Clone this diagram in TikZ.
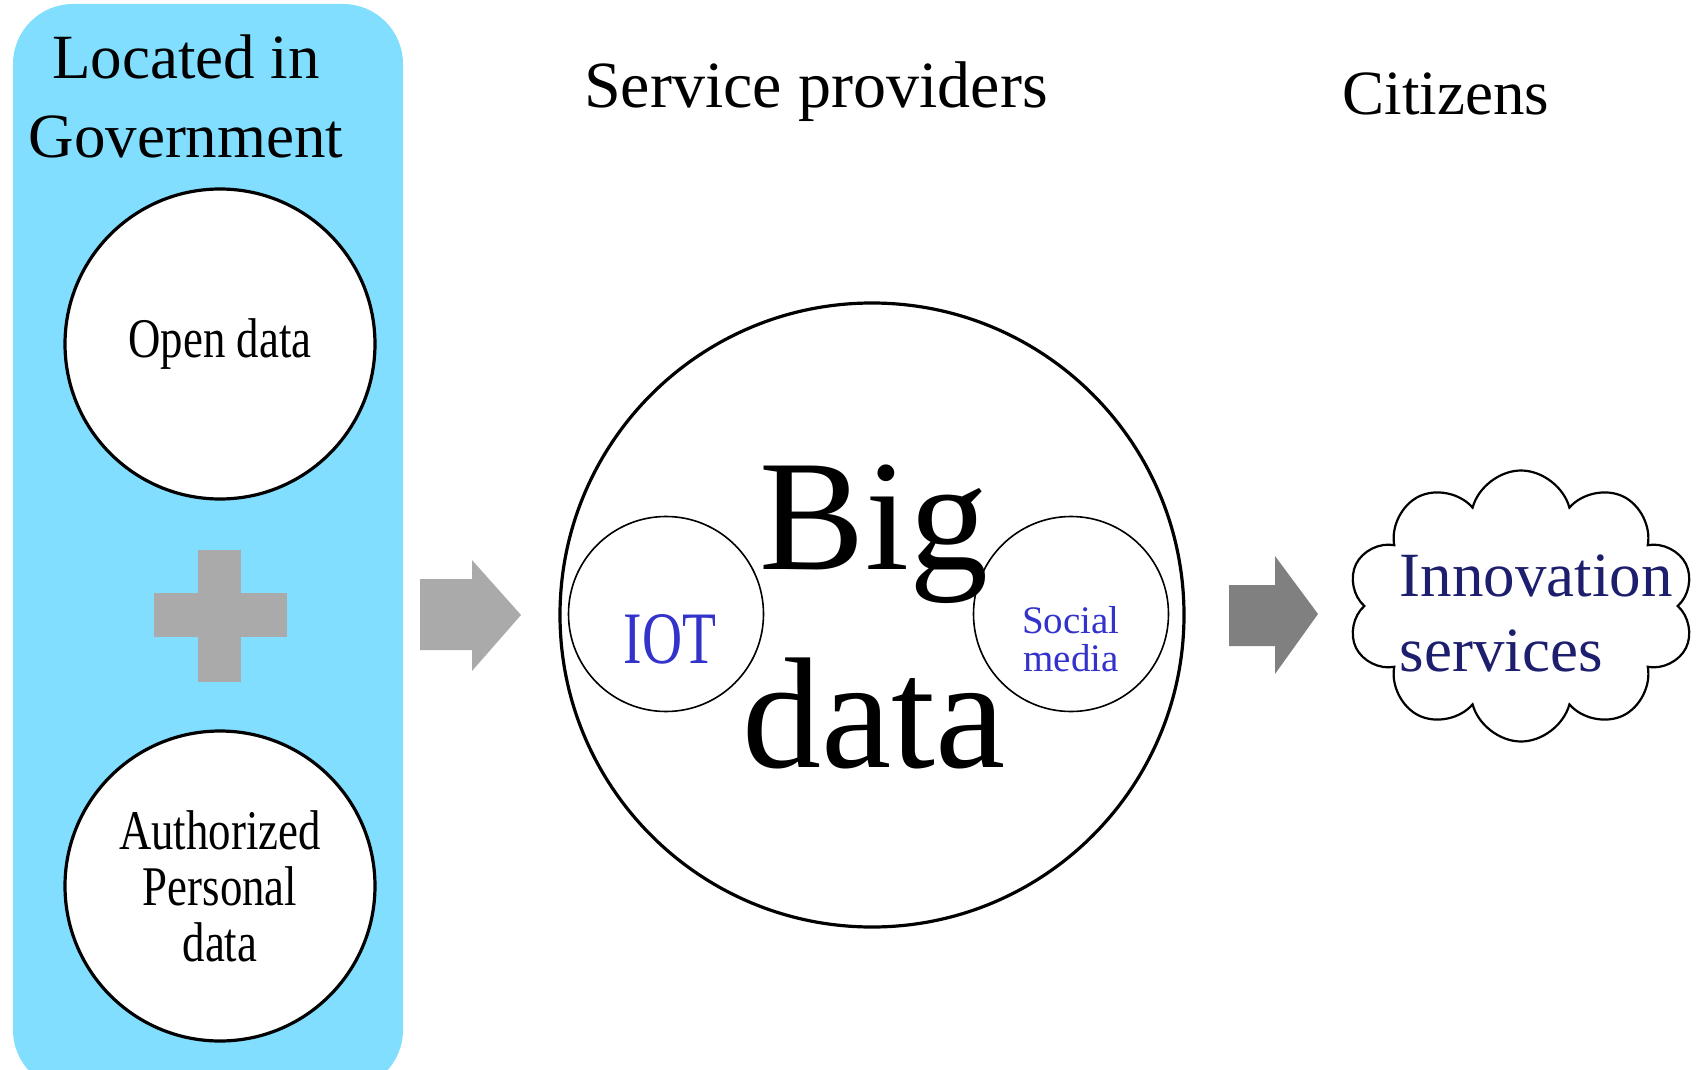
\documentclass[tikz,border=0pt]{standalone}
\usepackage{fontspec}
\setmainfont{Liberation Serif}
\newfontfamily\narrowserif[FakeStretch=0.8]{Liberation Serif}
\newfontfamily\mingserif[FakeStretch=0.75]{Liberation Serif}
\usetikzlibrary{shapes.symbols}

\definecolor{govblue}{HTML}{82DEFF}
\definecolor{arrowgray}{HTML}{AAAAAA}
\definecolor{arrowdark}{HTML}{808080}
\definecolor{iotblue}{HTML}{3333CC}
\definecolor{innonavy}{HTML}{1E1E6E}

\tikzset{every picture/.style={line width=0.75pt}}
\tikzset{
  bubble/.style={circle, draw, line width=1.6pt, fill=white, inner sep=0pt},
  smallbubble/.style={circle, draw, line width=0.8pt, fill=white, inner sep=0pt, minimum size=97.5pt},
  headtext/.style={anchor=base, inner sep=0pt, font=\fontsize{31.5}{39.5}\selectfont, align=center}
}

\begin{document}
\begin{tikzpicture}[x=0.5pt,y=0.5pt,yscale=-1]
\useasboundingbox (0,0) rectangle (1698,1070);

%Rounded Rect [id:govbox]
\fill[govblue, rounded corners=30pt] (13,4) rectangle (403,1090);

% Text Node
\node[headtext] (located) at (186,157) {Located in\\Government};

%Shape: Circle [id:open]
\node[bubble, minimum size=155pt, font=\narrowserif\fontsize{28}{28}\selectfont] (open) at (220,344) {Open data};
%Shape: Circle [id:personal]
\node[bubble, minimum size=155pt, align=center, font=\narrowserif\fontsize{28}{28}\selectfont] (personal) at (220,886) {Authorized\\Personal\\data};

%Shape: Cross [id:plus]
\fill[arrowgray] (154,593) rectangle (287,637);
\fill[arrowgray] (198,550) rectangle (241,682);

%Shape: Right Arrow [id:arrowin]
\fill[arrowgray] (420,579) -- (472,579) -- (472,560) -- (521,615) -- (472,671) -- (472,650) -- (420,650) -- cycle;
%Shape: Right Arrow [id:arrowout]
\fill[arrowdark] (1229,585) -- (1275,585) -- (1275,556) -- (1318,614) -- (1275,674) -- (1275,646) -- (1229,646) -- cycle;

% Text Node
\node[headtext, font=\fontsize{33}{40}\selectfont] (providers) at (816,108) {Service providers};
% Text Node
\node[headtext] (citizens) at (1446,115) {Citizens};

%Shape: Circle [id:bigdata]
\node[bubble, minimum size=312pt] (bigdata) at (872,615) {};
%Shape: Circle [id:iot]
\node[smallbubble] (iot) at (666,614) {};
%Shape: Circle [id:social]
\node[smallbubble] (social) at (1071,614) {};

% Text Node
\node[anchor=base, inner sep=0pt, align=center, font=\fontsize{79}{99}\selectfont] (bigtext) at (874,767) {Big\\data};
% Text Node
\node[anchor=base, inner sep=0pt, text=iotblue, font=\mingserif\fontsize{37}{37}\selectfont] (iottext) at (670,663) {IOT};
% Text Node
\node[anchor=base, inner sep=0pt, align=center, text=iotblue, font=\fontsize{19.5}{19}\selectfont] (socialtext) at (1071,671) {Social\\media};

%Shape: Cloud [id:cloud]
\node[cloud, draw, line width=1.1pt, cloud puffs=10, cloud ignores aspect, minimum width=173.5pt, minimum height=135.5pt] (cloud) at (1521,606) {};
% Text Node
\node[anchor=base west, inner sep=0pt, align=left, text=innonavy, font=\fontsize{31.5}{37.5}\selectfont] (innovation) at (1399,671) {Innovation\\services};

\end{tikzpicture}
\end{document}
